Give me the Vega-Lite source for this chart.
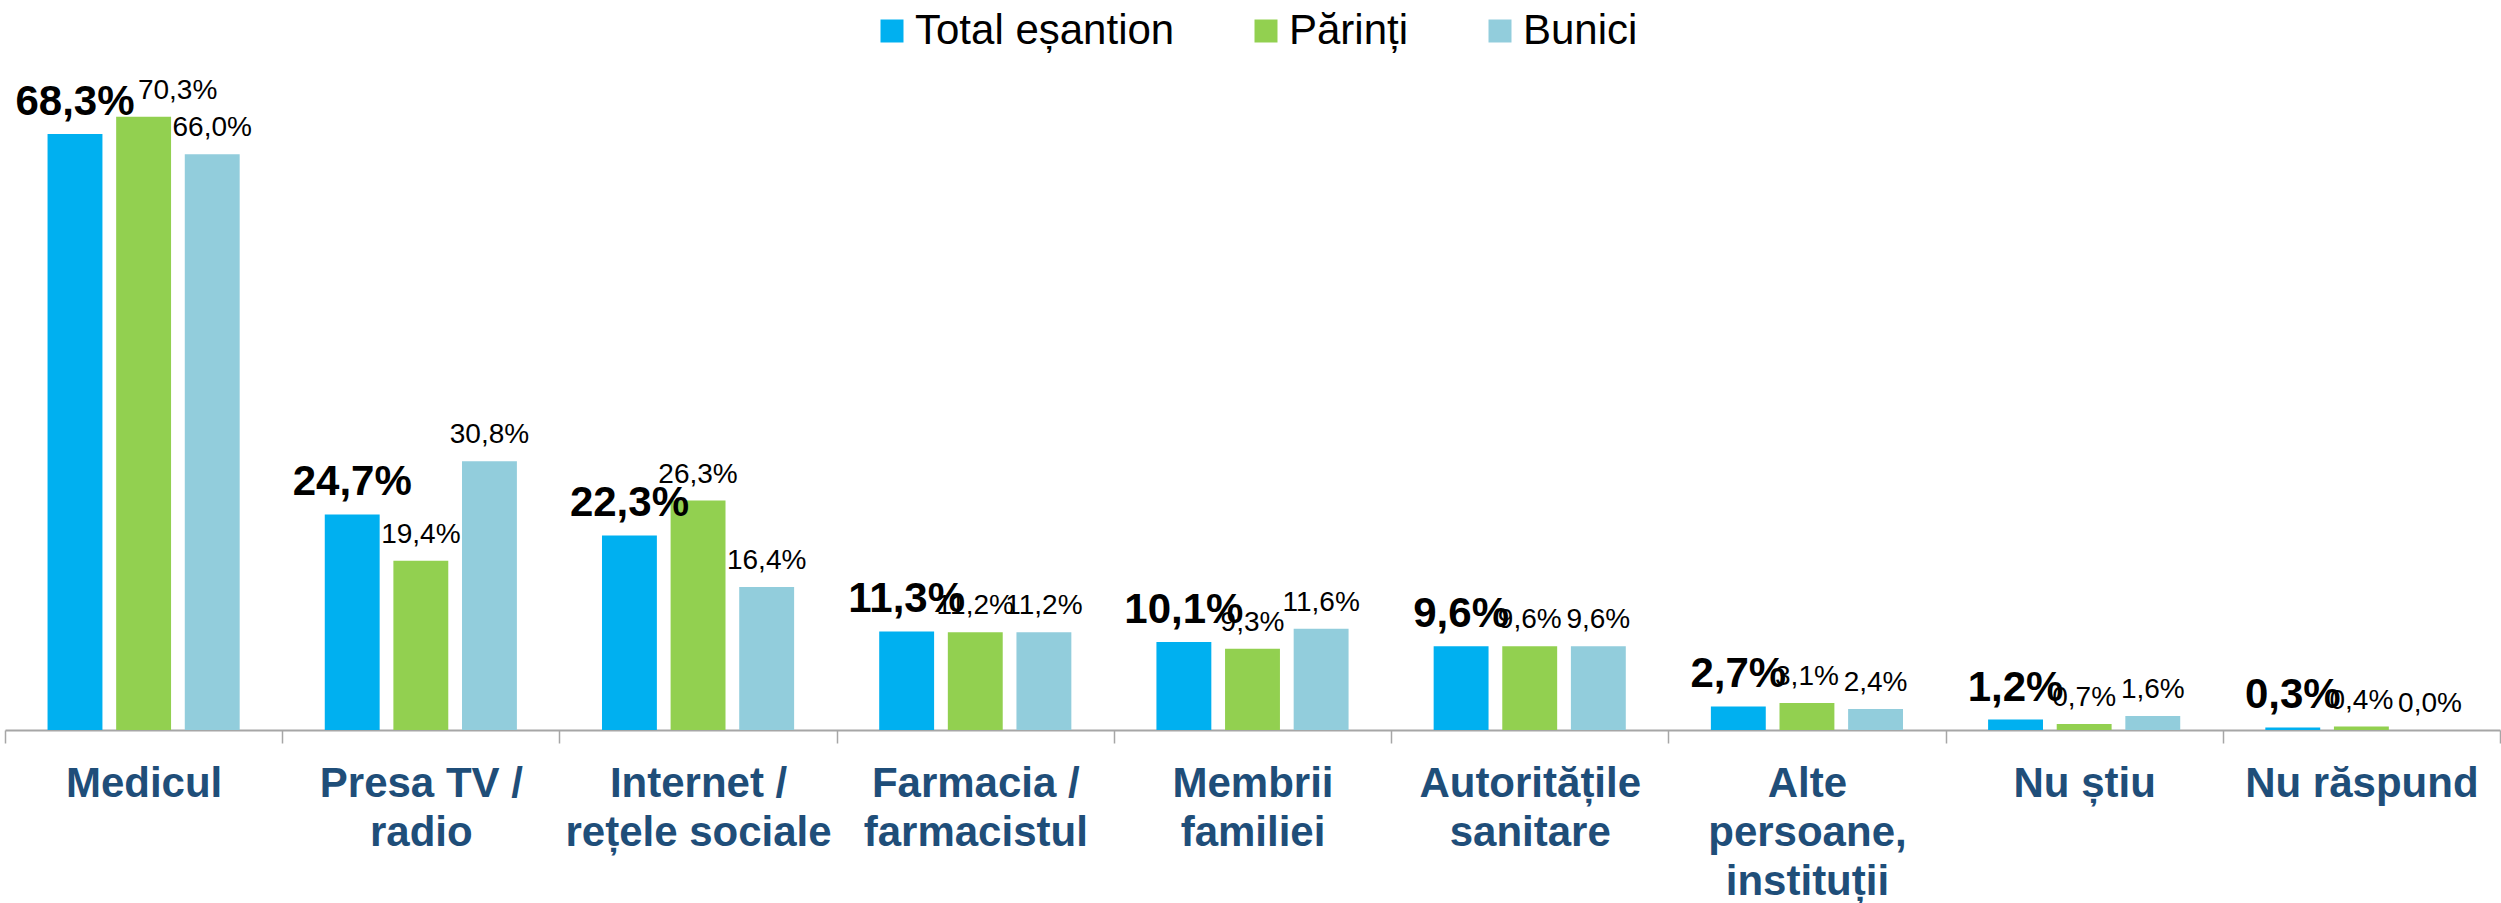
{
  "$schema": "https://vega.github.io/schema/vega-lite/v6.json",
  "width": 2495,
  "height": 698,
  "autosize": {"type": "none"},
  "padding": {"left": 5, "right": 1, "top": 32, "bottom": 173},
  "background": "white",
  "data": {
    "values": [
      {"cat": "Medicul", "series": "Total eșantion", "value": 68.3},
      {"cat": "Medicul", "series": "Părinți", "value": 70.3},
      {"cat": "Medicul", "series": "Bunici", "value": 66.0},
      {"cat": "Presa TV / radio", "series": "Total eșantion", "value": 24.7},
      {"cat": "Presa TV / radio", "series": "Părinți", "value": 19.4},
      {"cat": "Presa TV / radio", "series": "Bunici", "value": 30.8},
      {"cat": "Internet / rețele sociale", "series": "Total eșantion", "value": 22.3},
      {"cat": "Internet / rețele sociale", "series": "Părinți", "value": 26.3},
      {"cat": "Internet / rețele sociale", "series": "Bunici", "value": 16.4},
      {"cat": "Farmacia / farmacistul", "series": "Total eșantion", "value": 11.3},
      {"cat": "Farmacia / farmacistul", "series": "Părinți", "value": 11.2},
      {"cat": "Farmacia / farmacistul", "series": "Bunici", "value": 11.2},
      {"cat": "Membrii familiei", "series": "Total eșantion", "value": 10.1},
      {"cat": "Membrii familiei", "series": "Părinți", "value": 9.3},
      {"cat": "Membrii familiei", "series": "Bunici", "value": 11.6},
      {"cat": "Autoritățile sanitare", "series": "Total eșantion", "value": 9.6},
      {"cat": "Autoritățile sanitare", "series": "Părinți", "value": 9.6},
      {"cat": "Autoritățile sanitare", "series": "Bunici", "value": 9.6},
      {"cat": "Alte persoane, instituții", "series": "Total eșantion", "value": 2.7},
      {"cat": "Alte persoane, instituții", "series": "Părinți", "value": 3.1},
      {"cat": "Alte persoane, instituții", "series": "Bunici", "value": 2.4},
      {"cat": "Nu știu", "series": "Total eșantion", "value": 1.2},
      {"cat": "Nu știu", "series": "Părinți", "value": 0.7},
      {"cat": "Nu știu", "series": "Bunici", "value": 1.6},
      {"cat": "Nu răspund", "series": "Total eșantion", "value": 0.3},
      {"cat": "Nu răspund", "series": "Părinți", "value": 0.4},
      {"cat": "Nu răspund", "series": "Bunici", "value": 0.0}
    ]
  },
  "encoding": {
    "x": {
      "field": "cat",
      "type": "nominal",
      "sort": null,
      "scale": {"paddingInner": 0, "paddingOuter": 0},
      "axis": {
        "title": null,
        "labelAngle": 0,
        "tickBand": "extent",
        "domainColor": "#A6A6A6",
        "domainWidth": 2,
        "tickColor": "#A6A6A6",
        "tickWidth": 1.5,
        "tickSize": 13,
        "labelFont": "Liberation Sans",
        "labelFontSize": 42,
        "labelFontWeight": "bold",
        "labelColor": "#1F4E79",
        "labelPadding": 20,
        "labelLineHeight": 49,
        "labelLimit": 400,
        "labelOverlap": false,
        "labelBound": false,
        "labelExpr": "datum.value == 'Presa TV / radio' ? ['Presa TV /', 'radio'] : datum.value == 'Internet / rețele sociale' ? ['Internet /', 'rețele sociale'] : datum.value == 'Farmacia / farmacistul' ? ['Farmacia /', 'farmacistul'] : datum.value == 'Membrii familiei' ? ['Membrii', 'familiei'] : datum.value == 'Autoritățile sanitare' ? ['Autoritățile', 'sanitare'] : datum.value == 'Alte persoane, instituții' ? ['Alte', 'persoane,', 'instituții'] : datum.value"
      }
    },
    "xOffset": {
      "field": "series",
      "type": "nominal",
      "sort": ["Total eșantion", "Părinți", "Bunici"],
      "scale": {"paddingInner": 0.2, "paddingOuter": 0.62}
    },
    "y": {
      "field": "value",
      "type": "quantitative",
      "scale": {"domain": [0, 80], "nice": false, "zero": true},
      "axis": null
    }
  },
  "layer": [
    {
      "mark": {"type": "bar"},
      "encoding": {
        "color": {
          "field": "series",
          "type": "nominal",
          "scale": {
            "domain": ["Total eșantion", "Părinți", "Bunici"],
            "range": ["#00B0F0", "#92D050", "#92CDDC"]
          },
          "legend": {
            "title": null,
            "orient": "none",
            "legendX": 866,
            "legendY": -22,
            "direction": "horizontal",
            "symbolType": "square",
            "symbolSize": 529,
            "symbolStrokeWidth": 0,
            "labelFont": "Liberation Sans",
            "labelFontSize": 42,
            "labelColor": "#000000",
            "labelOffset": 2,
            "columnPadding": 70,
            "labelLimit": 500,
            "padding": 0
          }
        }
      }
    },
    {
      "transform": [{"filter": "datum.series != 'Total eșantion' && !(datum.cat == 'Medicul' && datum.series == 'Părinți')"}],
      "mark": {"type": "text", "font": "Liberation Sans", "fontSize": 28, "color": "#000000", "align": "center", "baseline": "alphabetic", "dy": -18},
      "encoding": {"text": {"field": "value", "type": "quantitative", "format": "$.1f"}}
    },
    {
      "transform": [{"filter": "datum.cat == 'Medicul' && datum.series == 'Părinți'"}],
      "mark": {"type": "text", "font": "Liberation Sans", "fontSize": 28, "color": "#000000", "align": "center", "baseline": "alphabetic", "dy": -18, "dx": 34},
      "encoding": {"text": {"field": "value", "type": "quantitative", "format": "$.1f"}}
    },
    {
      "transform": [{"filter": "datum.series == 'Total eșantion'"}],
      "mark": {"type": "text", "font": "Liberation Sans", "fontSize": 42, "fontWeight": "bold", "color": "#000000", "align": "center", "baseline": "alphabetic", "dy": -19},
      "encoding": {"text": {"field": "value", "type": "quantitative", "format": "$.1f"}}
    }
  ],
  "config": {
    "view": {"stroke": null},
    "axis": {"grid": false},
    "locale": {
      "number": {"decimal": ",", "thousands": ".", "grouping": [3], "currency": ["", "%"]}
    }
  }
}
